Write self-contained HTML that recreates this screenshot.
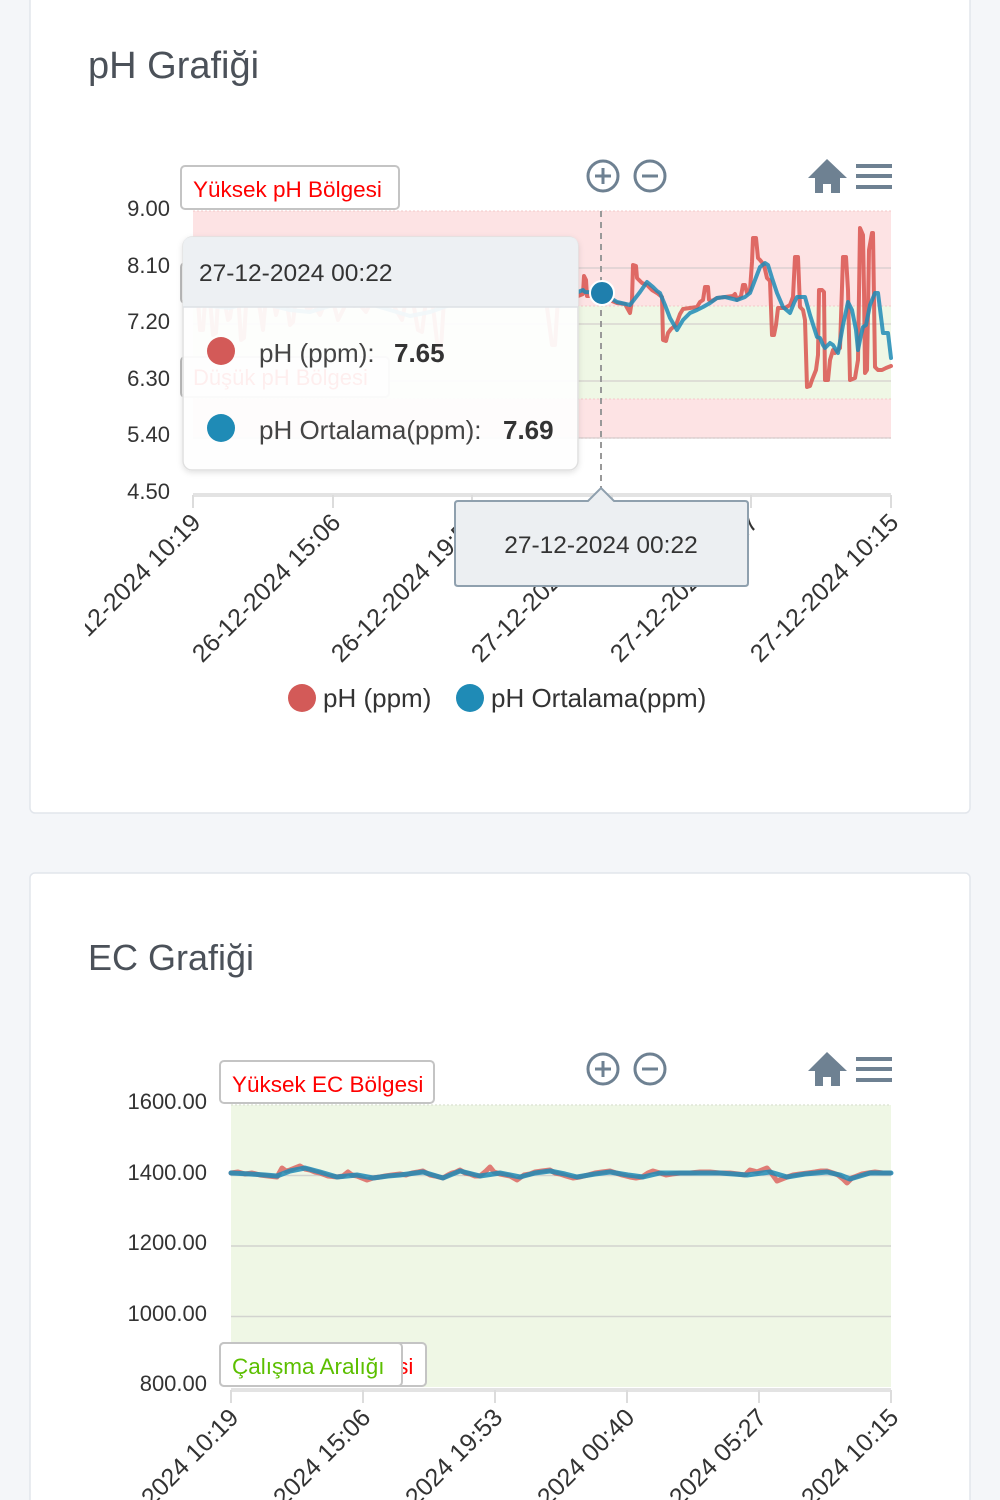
<!DOCTYPE html>
<html><head><meta charset="utf-8"><style>
html,body{margin:0;padding:0;background:#f4f6f9;}
body{width:1000px;height:1500px;overflow:hidden;position:relative;font-family:"Liberation Sans","DejaVu Sans",sans-serif;}
svg{position:absolute;left:0;top:0;}
</style></head><body>
<svg width="1000" height="1500" viewBox="0 0 1000 1500" xmlns="http://www.w3.org/2000/svg" font-family="Liberation Sans, DejaVu Sans, sans-serif">
<defs>
<clipPath id="c1"><rect x="85" y="0" width="830" height="800"/></clipPath>
<filter id="sh" x="-10%" y="-10%" width="120%" height="130%"><feDropShadow dx="0" dy="2" stdDeviation="3" flood-color="#000" flood-opacity="0.12"/></filter>
</defs>
<!-- cards -->
<rect x="30" y="-10" width="940" height="823" rx="5" fill="#fff" stroke="#e2e6ec" stroke-width="1.5"/>
<rect x="30" y="873" width="940" height="660" rx="5" fill="#fff" stroke="#e2e6ec" stroke-width="1.5"/>
<text x="88" y="78" font-size="38" fill="#4b5159">pH Grafiği</text>
<text x="88" y="970" font-size="36" fill="#4b5159">EC Grafiği</text>

<!-- ===== pH chart ===== -->
<g clip-path="url(#c1)">
<rect x="193" y="211" width="698" height="95" fill="#fde3e4"/>
<rect x="193" y="306" width="698" height="93" fill="#eff7e5"/>
<rect x="193" y="399" width="698" height="39" fill="#fde3e4"/>
<g stroke="#f3c9c9" stroke-width="1" stroke-dasharray="2,2">
<line x1="193" y1="211" x2="891" y2="211"/><line x1="193" y1="306" x2="891" y2="306"/><line x1="193" y1="399" x2="891" y2="399"/><line x1="193" y1="438" x2="891" y2="438"/>
</g>
<g stroke="#cfc9c9" stroke-width="1.5" opacity="0.7">
<line x1="193" y1="268" x2="891" y2="268"/><line x1="193" y1="324" x2="891" y2="324"/><line x1="193" y1="381" x2="891" y2="381"/><line x1="193" y1="438" x2="891" y2="438"/>
</g>
<g font-size="22" fill="#333" text-anchor="end">
<text x="170" y="216">9.00</text><text x="170" y="273">8.10</text><text x="170" y="329">7.20</text><text x="170" y="386">6.30</text><text x="170" y="442">5.40</text><text x="170" y="499">4.50</text>
</g>
<line x1="193" y1="495" x2="891" y2="495" stroke="#e3e3e3" stroke-width="4"/>
<g stroke="#dcdcdc" stroke-width="2">
<line x1="193" y1="495" x2="193" y2="508"/><line x1="333" y1="495" x2="333" y2="508"/><line x1="472" y1="495" x2="472" y2="508"/><line x1="612" y1="495" x2="612" y2="508"/><line x1="751" y1="495" x2="751" y2="508"/><line x1="891" y1="495" x2="891" y2="508"/>
</g>
<g font-size="25" fill="#333" text-anchor="end">
<text transform="translate(202,524) rotate(-45)">26-12-2024 10:19</text>
<text transform="translate(342,524) rotate(-45)">26-12-2024 15:06</text>
<text transform="translate(481,524) rotate(-45)">26-12-2024 19:53</text>
<text transform="translate(621,524) rotate(-45)">27-12-2024 00:40</text>
<text transform="translate(760,524) rotate(-45)">27-12-2024 05:27</text>
<text transform="translate(900,524) rotate(-45)">27-12-2024 10:15</text>
</g>
<g fill="none" stroke-width="4" stroke-linejoin="round" stroke-linecap="round">
<polyline stroke="#d9534f" stroke-opacity="0.85" points="193,305 198,300 200,330 203,330 205,302 210,300 213,335 216,333 218,300 224,298 228,320 230,318 233,296 238,294 241,340 244,338 246,305 252,300 256,290 260,310 263,330 266,296 272,292 276,315 280,300 286,296 290,325 293,322 296,298 302,300 308,310 314,305 320,315 326,300 332,298 338,320 342,312 348,300 354,306 360,305 366,312 372,300 378,296 384,305 390,298 396,310 402,320 406,300 412,296 418,330 422,332 426,300 432,298 438,350 441,348 444,300 450,296 456,302 462,300 468,305 474,298 480,300 486,296 492,302 498,300 504,296 510,298 516,300 522,296 528,300 534,302 540,298 546,300 552,345 555,345 558,298 564,296 570,300 578,296 583,294 584,276 586,280 587,296 600,296 617,303 625,304 630,313 632,300 633,265 636,266 637,278 642,283 647,285 652,290 657,293 662,297 663,340 666,341 668,333 671,329 676,325 680,314 683,309 690,308 697,307 700,302 703,300 705,287 708,287 709,300 712,301 717,298 725,297 733,296 735,294 737,300 741,296 743,285 745,285 747,293 750,290 752,262 753,238 756,238 758,258 760,260 764,265 767,278 770,281 772,335 774,335 776,325 778,308 785,308 790,305 793,297 795,257 797,257 798,257 800,307 803,310 805,320 807,387 810,386 812,380 816,370 818,355 819,290 822,290 824,292 825,380 828,380 830,360 833,350 835,353 838,350 840,348 843,257 846,257 848,290 850,380 855,378 858,360 860,228 863,235 864,290 865,373 867,370 869,250 872,233 873,233 875,367 878,370 882,370 886,368 891,366"/>
<polyline stroke="#1f8bb6" stroke-opacity="0.85" points="193,304 210,306 230,308 250,302 270,305 290,310 310,312 330,306 350,302 370,304 390,310 410,316 430,312 450,305 470,302 490,300 510,299 530,300 550,305 560,306 570,296 578,292 583,290 585,292 602,293 617,302 630,305 640,292 647,282 653,287 657,291 660,293 665,305 670,318 677,330 683,320 690,313 697,310 703,307 710,303 717,298 725,297 737,300 745,297 750,293 755,280 760,267 765,263 768,265 772,278 777,293 783,307 790,313 794,303 797,297 805,297 810,315 817,337 820,338 823,345 825,348 830,343 833,345 838,353 843,325 848,302 852,310 856,330 858,350 861,335 863,327 866,325 870,305 875,293 878,293 883,333 888,333 891,358"/>
</g>
<rect x="181" y="263" width="190" height="40" rx="4" fill="#fff" stroke="#bbb" stroke-width="2"/>
<text x="193" y="291" font-size="22" fill="#5cbf00">Çalışma Aralığı</text>
<rect x="181" y="357" width="208" height="40" rx="4" fill="#fff" stroke="#bbb" stroke-width="2"/>
<text x="193" y="385" font-size="22" fill="#ff0000">Düşük pH Bölgesi</text>
<rect x="181" y="166" width="218" height="43" rx="4" fill="#fff" stroke="#c4c4c4" stroke-width="2"/>
<text x="193" y="197" font-size="22.5" fill="#ff0000">Yüksek pH Bölgesi</text>
<line x1="601" y1="211" x2="601" y2="492" stroke="#999" stroke-width="2" stroke-dasharray="6,5"/>
<circle cx="602" cy="293" r="12" fill="#1f7fad" stroke="#fff" stroke-width="2"/>
<g filter="url(#sh)">
<rect x="183" y="237" width="395" height="233" rx="9" fill="#fff" fill-opacity="0.93" stroke="#e0e0e0" stroke-width="1.5"/>
</g>
<path d="M183,307 L183,246 Q183,237 192,237 L569,237 Q578,237 578,246 L578,307 Z" fill="#eceff2" fill-opacity="0.96"/>
<line x1="183" y1="307" x2="578" y2="307" stroke="#dde1e5" stroke-width="1.5"/>
<text x="199" y="281" font-size="24.5" fill="#333">27-12-2024 00:22</text>
<circle cx="221" cy="351" r="14" fill="#d35a58"/>
<text x="259" y="362" font-size="26" fill="#444">pH (ppm):</text>
<text x="394" y="362" font-size="26" fill="#333" font-weight="bold">7.65</text>
<circle cx="221" cy="428" r="14" fill="#1f8bb6"/>
<text x="259" y="439" font-size="26" fill="#444">pH Ortalama(ppm):</text>
<text x="503" y="439" font-size="26" fill="#333" font-weight="bold">7.69</text>
<path d="M458,501 L588,501 L601,488 L614,501 L745,501 Q748,501 748,504 L748,583 Q748,586 745,586 L458,586 Q455,586 455,583 L455,504 Q455,501 458,501 Z" fill="#eceff2" stroke="#8fa0ae" stroke-width="2"/>
<text x="601" y="553" font-size="24.5" fill="#333" text-anchor="middle">27-12-2024 00:22</text>
</g>
<g stroke="#6e8192" stroke-width="3" fill="none">
<circle cx="603" cy="176" r="15"/><line x1="595" y1="176" x2="611" y2="176"/><line x1="603" y1="168" x2="603" y2="184"/>
<circle cx="650" cy="176" r="15"/><line x1="642" y1="176" x2="658" y2="176"/>
</g>
<path d="M827,159 L847,178 L840,178 L840,193 L831,193 L831,184 L823,184 L823,193 L815,193 L815,178 L808,178 Z" fill="#6e8192"/>
<g stroke="#6e8192" stroke-width="4"><line x1="856" y1="166" x2="892" y2="166"/><line x1="856" y1="176" x2="892" y2="176"/><line x1="856" y1="187" x2="892" y2="187"/></g>
<circle cx="302" cy="698" r="14" fill="#d35a58"/>
<text x="323" y="707" font-size="26" fill="#333">pH (ppm)</text>
<circle cx="470" cy="698" r="14" fill="#1f8bb6"/>
<text x="491" y="707" font-size="26" fill="#333">pH Ortalama(ppm)</text>

<!-- ===== EC chart ===== -->
<rect x="231" y="1105" width="660" height="282" fill="#eff7e5"/>
<g stroke="#d2d4cf" stroke-width="1.5">
<line x1="231" y1="1175.5" x2="891" y2="1175.5"/><line x1="231" y1="1246" x2="891" y2="1246"/><line x1="231" y1="1316.5" x2="891" y2="1316.5"/>
</g>
<line x1="231" y1="1105" x2="891" y2="1105" stroke="#dfe6d6" stroke-width="1.5" stroke-dasharray="2,2"/>
<g font-size="22" fill="#333" text-anchor="end">
<text x="207" y="1109">1600.00</text><text x="207" y="1180">1400.00</text><text x="207" y="1250">1200.00</text><text x="207" y="1321">1000.00</text><text x="207" y="1391">800.00</text>
</g>
<line x1="231" y1="1390" x2="891" y2="1390" stroke="#e3e3e3" stroke-width="4"/>
<g stroke="#dcdcdc" stroke-width="2">
<line x1="231" y1="1390" x2="231" y2="1403"/><line x1="363" y1="1390" x2="363" y2="1403"/><line x1="495" y1="1390" x2="495" y2="1403"/><line x1="627" y1="1390" x2="627" y2="1403"/><line x1="759" y1="1390" x2="759" y2="1403"/><line x1="891" y1="1390" x2="891" y2="1403"/>
</g>
<g font-size="25" fill="#333" text-anchor="end">
<text transform="translate(240,1419) rotate(-45)">26-12-2024 10:19</text>
<text transform="translate(372,1419) rotate(-45)">26-12-2024 15:06</text>
<text transform="translate(504,1419) rotate(-45)">26-12-2024 19:53</text>
<text transform="translate(636,1419) rotate(-45)">27-12-2024 00:40</text>
<text transform="translate(768,1419) rotate(-45)">27-12-2024 05:27</text>
<text transform="translate(900,1419) rotate(-45)">27-12-2024 10:15</text>
</g>
<g fill="none" stroke-width="5" stroke-linejoin="round" stroke-linecap="round">
<polyline stroke="#d9534f" stroke-opacity="0.75" points="231,1173 238,1172 245,1174 252,1173 260,1175 268,1176 277,1177 282,1168 286,1171 290,1170 295,1168 300,1166 305,1169 310,1170 315,1172 320,1173 328,1176 337,1177 343,1176 348,1172 352,1175 357,1176 362,1178 367,1180 373,1178 380,1177 385,1176 392,1175 400,1174 406,1175 412,1173 418,1172 423,1171 430,1175 435,1176 443,1178 448,1175 452,1173 456,1172 460,1170 465,1173 470,1174 475,1176 480,1176 486,1171 490,1167 494,1172 500,1174 505,1175 510,1176 517,1180 524,1175 530,1174 535,1172 542,1171 550,1170 555,1173 560,1174 566,1176 573,1178 580,1177 588,1175 595,1173 602,1172 610,1171 616,1173 622,1175 630,1177 636,1178 642,1177 648,1173 653,1171 660,1173 666,1175 672,1174 680,1173 690,1173 700,1172 710,1172 720,1173 730,1173 738,1174 745,1175 750,1170 754,1171 757,1172 762,1170 767,1168 772,1174 777,1181 782,1179 787,1177 793,1175 800,1174 808,1173 815,1172 821,1171 827,1171 833,1173 838,1175 843,1179 847,1183 852,1178 857,1176 862,1174 868,1173 875,1172 883,1173 890,1173"/>
<polyline stroke="#1f8bb6" stroke-opacity="0.85" points="231,1173 250,1174 265,1175 277,1176 290,1171 305,1168 320,1172 337,1177 357,1175 373,1178 388,1176 400,1175 423,1172 443,1178 460,1171 480,1176 500,1173 520,1177 535,1173 550,1171 565,1174 577,1177 595,1174 610,1172 628,1175 643,1177 660,1173 680,1173 700,1173 720,1173 747,1175 770,1172 787,1177 805,1174 827,1172 840,1175 850,1179 870,1173 891,1173"/>
</g>
<rect x="220" y="1343" width="206" height="43" rx="4" fill="#fff" stroke="#c4c4c4" stroke-width="2"/>
<text x="232" y="1374" font-size="22.5" fill="#ff0000">Düşük EC Bölgesi</text>
<rect x="220" y="1343" width="182" height="43" rx="4" fill="#fff" stroke="#c4c4c4" stroke-width="2"/>
<text x="232" y="1374" font-size="22.5" fill="#5cbf00">Çalışma Aralığı</text>
<rect x="220" y="1061" width="214" height="42" rx="4" fill="#fff" stroke="#c4c4c4" stroke-width="2"/>
<text x="232" y="1092" font-size="22.5" fill="#ff0000">Yüksek EC Bölgesi</text>
<g stroke="#6e8192" stroke-width="3" fill="none">
<circle cx="603" cy="1069" r="15"/><line x1="595" y1="1069" x2="611" y2="1069"/><line x1="603" y1="1061" x2="603" y2="1077"/>
<circle cx="650" cy="1069" r="15"/><line x1="642" y1="1069" x2="658" y2="1069"/>
</g>
<path d="M827,1052 L847,1071 L840,1071 L840,1086 L831,1086 L831,1077 L823,1077 L823,1086 L815,1086 L815,1071 L808,1071 Z" fill="#6e8192"/>
<g stroke="#6e8192" stroke-width="4"><line x1="856" y1="1059" x2="892" y2="1059"/><line x1="856" y1="1069" x2="892" y2="1069"/><line x1="856" y1="1080" x2="892" y2="1080"/></g>
</svg>
</body></html>
